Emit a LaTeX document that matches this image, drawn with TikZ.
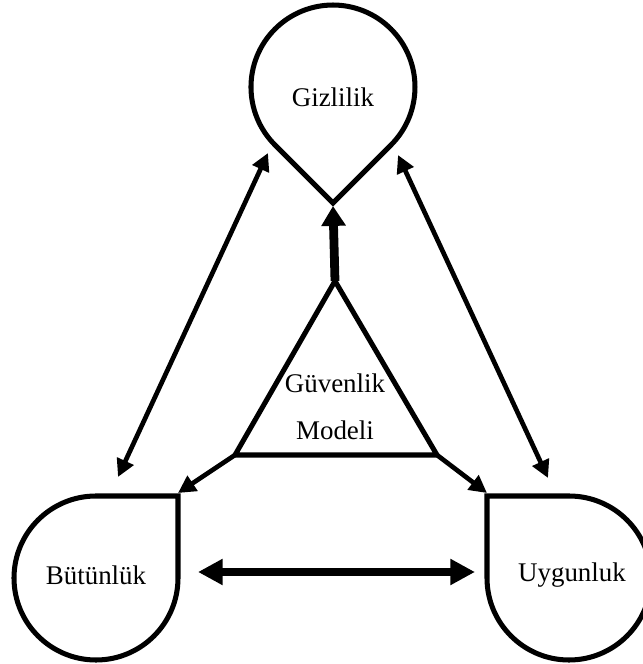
\documentclass[tikz,border=0pt]{standalone}
\usepackage{fontspec}
\setmainfont{Liberation Serif}
\usetikzlibrary{arrows.meta}
\begin{document}
\begin{tikzpicture}[x=0.03cm,y=0.03cm,
  shapeline/.style={draw=black,line width=4.3pt,line join=miter},
  label/.style={inner sep=0pt,font=\fontsize{23}{27}\selectfont},
  thinlink/.style={line width=4pt,{Triangle[length=15pt,width=15pt]}-{Triangle[length=15pt,width=15pt]}},
  halflink/.style={line width=4pt,-{Triangle[length=15pt,width=15pt]}},
  uplink/.style={line width=7.5pt,-{Triangle[length=17pt,width=20pt]}},
  widelink/.style={line width=7.5pt,{Triangle[length=21pt,width=21pt]}-{Triangle[length=21pt,width=21pt]}}]
\useasboundingbox (0,0) rectangle (643,664);

% Gizlilik: teardrop pointing down
\draw[shapeline] (333,461) -- (275,519) arc[start angle=225,end angle=-45,radius=82] -- cycle;
\node[label] (giz) at (333,567) {Gizlilik};
\coordinate (gizTip) at (333,458);
\coordinate (gizL) at (268,511);
\coordinate (gizR) at (398,509);

% Bütünlük: drop with square corner at top right
\draw[shapeline] (178,168) -- (96,168) arc[start angle=90,end angle=360,radius=82] -- cycle;
\node[label] (but) at (96,89) {Bütünlük};
\coordinate (butCorner) at (178,171);
\coordinate (butTop) at (118,187);
\coordinate (butSide) at (198,92);

% Uygunluk: drop with square corner at top left
\draw[shapeline] (487,168) -- (569,168) arc[start angle=90,end angle=-180,radius=82] -- cycle;
\node[label] (uyg) at (572,89) {Uygunluk};
\coordinate (uygCorner) at (487,171);
\coordinate (uygTop) at (548,186);
\coordinate (uygSide) at (475,92);

% Central triangle: Güvenlik Modeli
\coordinate (apex) at (335,383);
\coordinate (triL) at (235,209);
\coordinate (triR) at (437,209);
\draw[shapeline] (apex) -- (triL) -- (triR) -- cycle;
\node[label] (guv) at (335,281) {Güvenlik};
\node[label] (mod) at (335,234) {Modeli};

% Connectors
\draw[uplink] (apex) -- (gizTip);
\draw[halflink] (triL) -- (butCorner);
\draw[halflink] (triR) -- (uygCorner);
\draw[thinlink] (butTop) -- (gizL);
\draw[thinlink] (uygTop) -- (gizR);
\draw[widelink] (butSide) -- (uygSide);
\end{tikzpicture}
\end{document}
